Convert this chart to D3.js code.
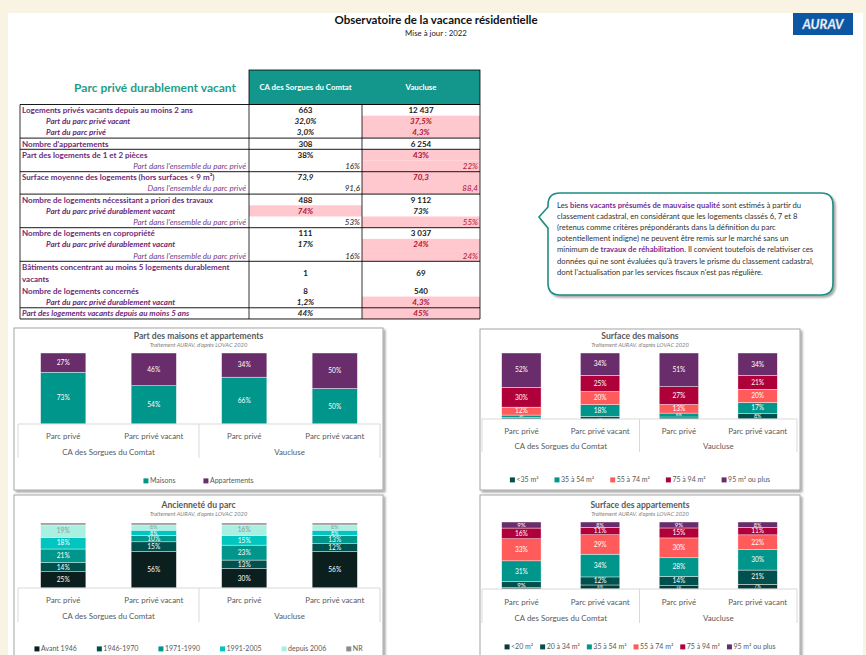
<!DOCTYPE html>
<html>
<head>
<meta charset="utf-8">
<script src="https://cdn.jsdelivr.net/npm/d3@7"></script>
<style>
  body { margin: 0; background: #f8f3e3; }
  svg { display: block; font-family: Lato, "Liberation Sans", sans-serif; }
</style>
</head>
<body>
<svg id="page" width="866" height="655"></svg>
<script>
// ---------- table data
const columnHeaders = ["CA des Sorgues du Comtat", "Vaucluse"];
const rowLabels = [
  "Logements privés vacants depuis au moins 2 ans",
  "Part du parc privé vacant",
  "Part du parc privé",
  "Nombre d'appartements",
  "Part des logements de 1 et 2 pièces",
  "Part dans l'ensemble du parc privé",
  "Surface moyenne des logements (hors surfaces < 9 m²)",
  "Dans l'ensemble du parc privé",
  "Nombre de logements nécessitant a priori des travaux",
  "Part du parc privé durablement vacant",
  "Part dans l'ensemble du parc privé",
  "Nombre de logements en copropriété",
  "Part du parc privé durablement vacant",
  "Part dans l'ensemble du parc privé",
  "Bâtiments concentrant au moins 5 logements durablement\nvacants",
  "Nombre de logements concernés",
  "Part du parc privé durablement vacant",
  "Part des logements vacants depuis au moins 5 ans"
];
const rowKinds = ["main", "sub", "sub", "main", "main", "share", "avg", "share", "main",
  "sub", "share", "main", "sub", "share", "main", "main", "sub", "total"];
const rowGroups = [0, 0, 0, 1, 2, 2, 3, 3, 4, 4, 4, 5, 5, 5, 6, 6, 6, 7];
const caValues = ["663", "32,0%", "3,0%", "308", "38%", "16%", "73,9", "91,6", "488",
  "74%", "53%", "111", "17%", "16%", "1", "8", "1,2%", "44%"];
const vaucluseValues = ["12 437", "37,5%", "4,3%", "6 254", "43%", "22%", "70,3", "88,4", "9 112",
  "73%", "55%", "3 037", "24%", "24%", "69", "540", "4,3%", "45%"];
const caHighlight = [9];
const vaucluseHighlight = [1, 2, 4, 5, 6, 7, 10, 12, 13, 16, 17];

// ---------- chart categories
const groupNames = ["CA des Sorgues du Comtat", "Vaucluse"];
const parcNames = ["Parc privé", "Parc privé vacant"];

// Part des maisons et appartements
const typeKeys = ["Maisons", "Appartements"];
const maisons = [73, 54, 66, 50];
const appartements = [27, 46, 34, 50];

// Surface des maisons
const surfMaisonKeys = ["<35 m²", "35 à 54 m²", "55 à 74 m²", "75 à 94 m²", "95 m² ou plus"];
const maisonLt35 = [2, 4, 3, 8];
const maison35to54 = [4, 18, 6, 17];
const maison55to74 = [12, 20, 13, 20];
const maison75to94 = [30, 25, 27, 21];
const maison95plus = [52, 34, 51, 34];

// Ancienneté du parc
const periodKeys = ["Avant 1946", "1946-1970", "1971-1990", "1991-2005", "depuis 2006", "NR"];
const avant1946 = [25, 56, 30, 56];
const p1946to1970 = [14, 15, 13, 12];
const p1971to1990 = [21, 10, 23, 13];
const p1991to2005 = [18, 8, 15, 8];
const depuis2006 = [19, 8, 16, 8];
const periodNR = [3, 3, 3, 3];

// Surface des appartements
const surfAppartKeys = ["<20 m²", "20 à 34 m²", "35 à 54 m²", "55 à 74 m²", "75 à 94 m²", "95 m² ou plus"];
const appartLt20 = [2, 6, 5, 7];
const appart20to34 = [9, 12, 14, 21];
const appart35to54 = [31, 34, 28, 30];
const appart55to74 = [33, 29, 30, 22];
const appart75to94 = [16, 11, 15, 11];
const appart95plus = [9, 8, 9, 8];

const svg = d3.select("#page");
const defs = svg.append("defs");
defs.append("filter").attr("id", "shadow")
  .attr("x", "-10%").attr("y", "-10%").attr("width", "130%").attr("height", "130%")
  .append("feDropShadow")
  .attr("dx", 2).attr("dy", 2).attr("stdDeviation", 1.3)
  .attr("flood-color", "#000").attr("flood-opacity", 0.35);

// page sheet
svg.append("rect").attr("x", 8).attr("y", 13).attr("width", 855).attr("height", 642).attr("fill", "#fff");

// header
svg.append("text").attr("x", 436).attr("y", 20).attr("dy", "0.35em").attr("text-anchor", "middle")
  .attr("font-size", 11.5).attr("font-weight", "bold").attr("fill", "#111")
  .text("Observatoire de la vacance résidentielle");
svg.append("text").attr("x", 436).attr("y", 33).attr("dy", "0.35em").attr("text-anchor", "middle")
  .attr("font-size", 7.8).attr("fill", "#222").text("Mise à jour : 2022");

const logo = svg.append("g").attr("transform", "translate(793,13)");
logo.append("rect").attr("width", 60).attr("height", 22).attr("fill", "#0b57a4");
logo.append("text").attr("x", 30).attr("y", 11).attr("dy", "0.35em").attr("text-anchor", "middle")
  .attr("font-size", 13).attr("font-weight", "bold").attr("font-style", "italic")
  .attr("fill", "#fff").attr("stroke", "#9fb6d6").attr("stroke-width", 0.4)
  .text("AURAV");

// ---------- table
const tbl = { left: 20, labelRight: 249, mid: 362, right: 480, headTop: 70, top: 104.5, rowH: 11.2 };
const purple = "#6d2a78";
const red = "#b0122f";
const teal = "#13968b";
const fs = 8;

svg.append("text").attr("x", 236).attr("y", 88).attr("dy", "0.35em").attr("text-anchor", "end")
  .attr("font-size", 12).attr("font-weight", "bold").attr("fill", "#1f9e8a")
  .text("Parc privé durablement vacant");

svg.append("rect").attr("x", tbl.labelRight).attr("y", tbl.headTop)
  .attr("width", tbl.right - tbl.labelRight).attr("height", tbl.top - tbl.headTop)
  .attr("fill", teal).attr("stroke", "#000").attr("stroke-width", 0.8);
[[tbl.labelRight, tbl.mid], [tbl.mid, tbl.right]].forEach(([a, b], i) => {
  svg.append("text").attr("x", (a + b) / 2).attr("y", (tbl.headTop + tbl.top) / 2).attr("dy", "0.35em")
    .attr("text-anchor", "middle").attr("font-size", 7.8).attr("font-weight", "bold").attr("fill", "#fff")
    .text(columnHeaders[i]);
});

const rowTops = [];
let yy = tbl.top;
rowLabels.forEach((l) => {
  rowTops.push(yy);
  yy += l.includes("\n") ? tbl.rowH * 2.15 : tbl.rowH;
});
const tableBottom = yy;
const rowHeight = (i) => (i < rowLabels.length - 1 ? rowTops[i + 1] : tableBottom) - rowTops[i];

// highlighted cells
caHighlight.forEach((i) => {
  svg.append("rect").attr("x", tbl.labelRight).attr("y", rowTops[i])
    .attr("width", tbl.mid - tbl.labelRight).attr("height", rowHeight(i)).attr("fill", "#ffc7ce");
});
vaucluseHighlight.forEach((i) => {
  svg.append("rect").attr("x", tbl.mid).attr("y", rowTops[i])
    .attr("width", tbl.right - tbl.mid).attr("height", rowHeight(i)).attr("fill", "#ffc7ce");
});

// labels
rowLabels.forEach((label, i) => {
  const kind = rowKinds[i];
  const cy = rowTops[i] + rowHeight(i) / 2;
  const lines = label.split("\n");
  const t = svg.append("text").attr("font-size", fs).attr("fill", purple);
  if (kind === "share") {
    t.attr("x", tbl.labelRight - 3).attr("text-anchor", "end").attr("font-style", "italic").attr("fill", "#7a3e86");
  } else if (kind === "sub") {
    t.attr("x", 46).attr("font-weight", "bold").attr("font-style", "italic");
  } else if (kind === "total") {
    t.attr("x", 22).attr("font-weight", "bold").attr("font-style", "italic");
  } else {
    t.attr("x", 22).attr("font-weight", "bold");
  }
  lines.forEach((ln, k) => {
    t.append("tspan").attr("x", t.attr("x"))
      .attr("y", cy + (k - (lines.length - 1) / 2) * 11.5).attr("dy", "0.35em").text(ln);
  });
});

// values
[caValues, vaucluseValues].forEach((vals, c) => {
  const a = c === 0 ? tbl.labelRight : tbl.mid;
  const b = c === 0 ? tbl.mid : tbl.right;
  const hl = c === 0 ? caHighlight : vaucluseHighlight;
  vals.forEach((v, i) => {
    const kind = rowKinds[i];
    const cy = rowTops[i] + rowHeight(i) / 2;
    const t = svg.append("text").attr("y", cy).attr("dy", "0.35em").attr("font-size", fs)
      .attr("fill", hl.includes(i) ? red : "#1a1a1a").text(v);
    if (kind === "share") {
      t.attr("x", b - 2).attr("text-anchor", "end").attr("font-style", "italic");
    } else {
      t.attr("x", (a + b) / 2).attr("text-anchor", "middle").attr("font-weight", "bold");
      if (kind !== "main") t.attr("font-style", "italic");
    }
  });
});

// grid lines
const hLines = rowTops.filter((y, i) => i === 0 || rowGroups[i] !== rowGroups[i - 1]).concat([tableBottom]);
svg.selectAll(".hline").data(hLines).enter().append("line")
  .attr("x1", tbl.left).attr("x2", tbl.right).attr("y1", (d) => d).attr("y2", (d) => d)
  .attr("stroke", "#000").attr("stroke-width", 0.9);
svg.selectAll(".vline").data([tbl.left, tbl.labelRight, tbl.mid, tbl.right]).enter().append("line")
  .attr("x1", (d) => d).attr("x2", (d) => d).attr("y1", tbl.top).attr("y2", tableBottom)
  .attr("stroke", "#000").attr("stroke-width", 0.8);

// ---------- text bubble
svg.append("path")
  .attr("d", "M560,193 H821 Q833,193 833,205 V283 Q833,295 821,295 H560 Q548,295 548,283 V228 L539,217 L548,207 V205 Q548,193 560,193 Z")
  .attr("fill", "#fff").attr("stroke", "#1e8c80").attr("stroke-width", 1.6).attr("filter", "url(#shadow)");
const bubbleLines = [
  [["Les ", 0], ["biens vacants présumés de mauvaise qualité", 1], [" sont estimés à partir du", 0]],
  [["classement cadastral, en considérant que les logements classés 6, 7 et 8", 0]],
  [["(retenus comme critères prépondérants dans la définition du parc", 0]],
  [["potentiellement indigne) ne peuvent être remis sur le marché sans un", 0]],
  [["minimum de ", 0], ["travaux de réhabilitation", 1], [". Il convient toutefois de relativiser ces", 0]],
  [["données qui ne sont évaluées qu'à travers le prisme du classement cadastral,", 0]],
  [["dont l'actualisation par les services fiscaux n'est pas régulière.", 0]]
];
bubbleLines.forEach((parts, k) => {
  const t = svg.append("text").attr("x", 557).attr("y", 205 + k * 11.2).attr("dy", "0.35em")
    .attr("font-size", 7.7).attr("fill", "#333");
  parts.forEach(([s, em]) => {
    const ts = t.append("tspan").text(s);
    if (em) ts.attr("font-weight", "bold").attr("fill", "#7a2d95");
  });
});

// ---------- stacked charts
function drawStackChart(cfg) {
  const g = svg.append("g").attr("transform", `translate(${cfg.x},${cfg.y})`);
  g.append("rect").attr("width", cfg.w).attr("height", cfg.h)
    .attr("fill", "#fff").attr("stroke", "#a6a6a6").attr("stroke-width", 1).attr("filter", "url(#shadow)");

  g.append("text").attr("x", cfg.w / 2).attr("y", cfg.titleY).attr("dy", "0.35em").attr("text-anchor", "middle")
    .attr("font-size", 8.6).attr("font-weight", "bold").attr("fill", "#595959").text(cfg.title);
  g.append("text").attr("x", cfg.w / 2).attr("y", cfg.titleY + 9).attr("dy", "0.35em").attr("text-anchor", "middle")
    .attr("font-size", 5.8).attr("font-style", "italic").attr("fill", "#7f7f7f")
    .text("Traitement AURAV, d'après LOVAC 2020");

  const cats = d3.cross(groupNames, parcNames).map((d, i) => i);
  const rows = cats.map((i) => {
    const o = { i };
    cfg.keys.forEach((k, j) => (o[k] = cfg.series[j][i]));
    return o;
  });
  const stacked = d3.stack().keys(cfg.keys).offset(d3.stackOffsetExpand)(rows);

  const x = d3.scaleBand().domain(cats).range([cfg.plotL, cfg.plotR]).paddingInner(0.5).paddingOuter(0.25);
  const y = d3.scaleLinear().domain([0, 1]).range([cfg.plotB, cfg.plotT]);
  const color = d3.scaleOrdinal().domain(cfg.keys).range(cfg.colors);

  const layers = g.selectAll(".layer").data(stacked).enter().append("g").attr("fill", (d) => color(d.key));
  layers.selectAll("rect").data((d) => d).enter().append("rect")
    .attr("x", (d) => x(d.data.i)).attr("width", x.bandwidth())
    .attr("y", (d) => y(d[1])).attr("height", (d) => y(d[0]) - y(d[1]))
    .attr("stroke", "#fff").attr("stroke-width", 0.4);

  layers.each(function (layer) {
    const j = cfg.keys.indexOf(layer.key);
    d3.select(this).selectAll("text").data(layer.filter((d) => d.data[layer.key] >= 4)).enter().append("text")
      .attr("x", (d) => x(d.data.i) + x.bandwidth() / 2)
      .attr("y", (d) => (y(d[0]) + y(d[1])) / 2).attr("dy", "0.35em")
      .attr("text-anchor", "middle")
      .attr("font-size", (d) => Math.min(6.6, (y(d[0]) - y(d[1])) * 1.02))
      .attr("fill", cfg.darkLabel && cfg.darkLabel.includes(j) ? "#8a9a98" : "#fff")
      .text((d) => d.data[layer.key] + "%");
  });

  // multi-level category axis
  const axisCol = "#d9d9d9";
  g.append("line").attr("x1", cfg.plotL).attr("x2", cfg.plotR).attr("y1", cfg.plotB).attr("y2", cfg.plotB)
    .attr("stroke", axisCol);
  const gx = d3.scaleBand().domain(groupNames).range([cfg.plotL, cfg.plotR]);
  g.selectAll(".sep").data([cfg.plotL, gx(groupNames[1]), cfg.plotR]).enter().append("line")
    .attr("x1", (d) => d).attr("x2", (d) => d).attr("y1", cfg.plotB).attr("y2", cfg.plotB + cfg.sepLen)
    .attr("stroke", axisCol);
  const ax = g.append("g").attr("transform", `translate(0,${cfg.plotB + cfg.catDy})`)
    .call(d3.axisBottom(x).tickSize(0).tickPadding(0).tickFormat((i) => parcNames[i % 2]));
  ax.select(".domain").remove();
  ax.selectAll("text").attr("dy", "0.35em").attr("font-size", 7.9).attr("fill", "#595959")
    .attr("font-family", "Lato, sans-serif");
  const gax = g.append("g").attr("transform", `translate(0,${cfg.plotB + cfg.groupDy})`)
    .call(d3.axisBottom(gx).tickSize(0).tickPadding(0));
  gax.select(".domain").remove();
  gax.selectAll("text").attr("dy", "0.35em").attr("font-size", 7.9).attr("fill", "#595959")
    .attr("font-family", "Lato, sans-serif");

  // legend
  const legend = g.append("g");
  let lx = 0;
  cfg.keys.forEach((k, j) => {
    const item = legend.append("g").attr("transform", `translate(${lx},0)`);
    item.append("rect").attr("y", -2.6).attr("width", 5).attr("height", 5).attr("fill", cfg.colors[j]);
    const t = item.append("text").attr("x", 6.5).attr("dy", "0.35em").attr("font-size", 7).attr("fill", "#595959").text(k);
    lx += 6.5 + t.node().getComputedTextLength() + cfg.legendGap;
  });
  const total = lx - cfg.legendGap;
  legend.attr("transform", `translate(${cfg.w / 2 - total / 2},${cfg.legendY})`);
}

const cTeal = "#00968c", cPurple = "#6a2d6c", cDark = "#00514d", cDarkest = "#0b1f1e",
  cDeep = "#073b38", cCyan = "#00c6bf", cMint = "#a9f0e3", cGrey = "#8c8c8c",
  cCoral = "#ff5b5b", cCrimson = "#b0003a";

drawStackChart({
  x: 14, y: 328, w: 369, h: 162, titleY: 8,
  plotL: 4, plotR: 366, plotT: 25, plotB: 96, catDy: 12, groupDy: 28, sepLen: 34,
  legendY: 153, legendGap: 28,
  title: "Part des maisons et appartements",
  keys: typeKeys, series: [maisons, appartements], colors: [cTeal, cPurple]
});

drawStackChart({
  x: 480, y: 329, w: 320, h: 161, titleY: 7,
  plotL: 2, plotR: 317, plotT: 24, plotB: 90, catDy: 12, groupDy: 27, sepLen: 33,
  legendY: 151, legendGap: 16,
  title: "Surface des maisons",
  keys: surfMaisonKeys, series: [maisonLt35, maison35to54, maison55to74, maison75to94, maison95plus],
  colors: [cDark, cTeal, cCoral, cCrimson, cPurple]
});

drawStackChart({
  x: 14, y: 495, w: 369, h: 170, titleY: 10,
  plotL: 4, plotR: 366, plotT: 28, plotB: 93, catDy: 12, groupDy: 28, sepLen: 34,
  legendY: 154, legendGap: 20,
  title: "Ancienneté du parc",
  keys: periodKeys, series: [avant1946, p1946to1970, p1971to1990, p1991to2005, depuis2006, periodNR],
  colors: [cDarkest, cDark, cTeal, cCyan, cMint, cGrey], darkLabel: [4]
});

drawStackChart({
  x: 480, y: 495, w: 320, h: 170, titleY: 10,
  plotL: 2, plotR: 317, plotT: 27, plotB: 94, catDy: 13, groupDy: 29, sepLen: 34,
  legendY: 152, legendGap: 7,
  title: "Surface des appartements",
  keys: surfAppartKeys, series: [appartLt20, appart20to34, appart35to54, appart55to74, appart75to94, appart95plus],
  colors: [cDeep, cDark, cTeal, cCoral, cCrimson, cPurple]
});
</script>
</body>
</html>
